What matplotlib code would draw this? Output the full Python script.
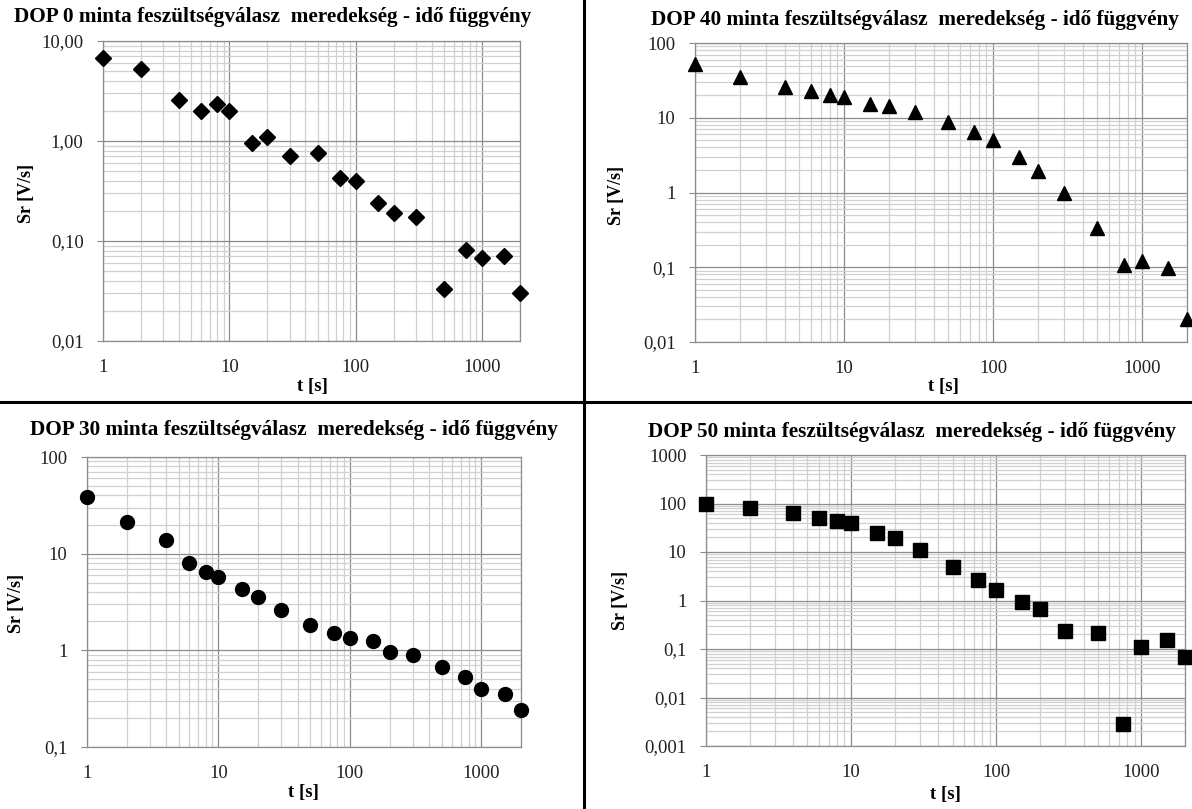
import numpy as np
import matplotlib
matplotlib.use("Agg")
import matplotlib.pyplot as plt
from matplotlib.lines import Line2D
from matplotlib.ticker import LogLocator, FixedLocator, FixedFormatter, NullFormatter

# data
t = [1, 2, 4, 6, 8, 10, 15, 20, 30, 50, 75, 100, 150, 200, 300, 500, 750, 1000, 1500, 2000]

sr_dop0 = [6.8, 5.3, 2.6, 2.0, 2.36, 1.98, 0.96, 1.1, 0.70, 0.76, 0.43, 0.40,
           0.24, 0.19, 0.175, 0.033, 0.081, 0.067, 0.070, 0.030]
sr_dop40 = [52, 35.6, 26, 23, 19.9, 18.9, 15.4, 14.5, 11.8, 8.7, 6.4, 5.0,
            3.0, 1.96, 0.97, 0.33, 0.106, 0.123, 0.097, 0.020]
sr_dop30 = [38.7, 21.4, 13.8, 8.1, 6.4, 5.7, 4.3, 3.6, 2.6, 1.81, 1.51, 1.33,
            1.24, 0.95, 0.89, 0.68, 0.53, 0.40, 0.35, 0.24]
sr_dop50 = [98, 81, 63, 50, 44, 40, 24.7, 19.2, 11, 5.0, 2.6, 1.66,
            0.91, 0.66, 0.24, 0.21, 0.0029, 0.11, 0.15, 0.069]

x_ticks = [1, 10, 100, 1000]
x_labels = ["1", "10", "100", "1000"]
y_ticks_dop0 = [0.01, 0.1, 1, 10]
y_labels_dop0 = ["0,01", "0,10", "1,00", "10,00"]
y_ticks_dop40 = [0.01, 0.1, 1, 10, 100]
y_labels_dop40 = ["0,01", "0,1", "1", "10", "100"]
y_ticks_dop30 = [0.1, 1, 10, 100]
y_labels_dop30 = ["0,1", "1", "10", "100"]
y_ticks_dop50 = [0.001, 0.01, 0.1, 1, 10, 100, 1000]
y_labels_dop50 = ["0,001", "0,01", "0,1", "1", "10", "100", "1000"]

title_fmt = "DOP {} minta feszültségválasz  meredekség - idő függvény"

W, H = 1192, 809
fig = plt.figure(figsize=(W / 100, H / 100), dpi=100)
fig.patch.set_facecolor("white")

serif = ["Liberation Serif", "DejaVu Serif"]


def px_axes(left, right, top, bottom):
    return fig.add_axes([left / W, 1 - bottom / H, (right - left) / W, (bottom - top) / H])


def panel(ax, y, marker, ms, yticks, ylabels, ylim, title, title_xy, ylab_xy, xlab_xy):
    ax.plot(t, y, linestyle="none", marker=marker, markersize=ms, color="black", clip_on=False, zorder=5)
    ax.set_xscale("log")
    ax.set_yscale("log")
    ax.set_xlim(1, 2000)
    ax.set_ylim(*ylim)
    ax.xaxis.set_major_locator(FixedLocator(x_ticks))
    ax.xaxis.set_major_formatter(FixedFormatter(x_labels))
    ax.xaxis.set_minor_locator(LogLocator(base=10, subs=np.arange(2, 10), numticks=20))
    ax.xaxis.set_minor_formatter(NullFormatter())
    ax.yaxis.set_major_locator(FixedLocator(yticks))
    ax.yaxis.set_major_formatter(FixedFormatter(ylabels))
    ax.yaxis.set_minor_locator(LogLocator(base=10, subs=np.arange(2, 10), numticks=20))
    ax.yaxis.set_minor_formatter(NullFormatter())
    ax.grid(True, which="major", color="#8c8c8c", linewidth=0.9)
    ax.grid(True, which="minor", color="#d0d0d0", linewidth=0.9)
    ax.set_axisbelow(True)
    for s in ax.spines.values():
        s.set_color("#8c8c8c")
        s.set_linewidth(0.9)
    ax.tick_params(axis="x", which="both", length=0, pad=13, labelsize=13.5, labelcolor="#222222")
    ax.tick_params(axis="y", which="major", length=4, color="#8c8c8c", pad=10, labelsize=13.5,
                   labelcolor="#222222")
    ax.tick_params(axis="y", which="minor", length=0)
    for lab in ax.get_xticklabels() + ax.get_yticklabels():
        lab.set_family(serif)
    fig.text(title_xy[0] / W, 1 - title_xy[1] / H, title, ha="center", va="center",
             fontsize=15.3, fontweight="bold", family=serif)
    fig.text(ylab_xy[0] / W, 1 - ylab_xy[1] / H, "Sr [V/s]", ha="center", va="center",
             rotation=90, fontsize=13, fontweight="bold", family=serif)
    fig.text(xlab_xy[0] / W, 1 - xlab_xy[1] / H, "t [s]", ha="center", va="center",
             fontsize=13.5, fontweight="bold", family=serif)


ax1 = px_axes(103, 520, 41, 341)
panel(ax1, sr_dop0, "D", 8.5, y_ticks_dop0, y_labels_dop0, (0.01, 10),
      title_fmt.format(0), (273, 17), (26, 193), (312, 387))

ax2 = px_axes(695, 1187, 43, 342)
panel(ax2, sr_dop40, "^", 10, y_ticks_dop40, y_labels_dop40, (0.01, 100),
      title_fmt.format(40), (915, 20), (616, 195), (943, 387))

ax3 = px_axes(87, 521, 457, 747)
panel(ax3, sr_dop30, "o", 10, y_ticks_dop30, y_labels_dop30, (0.1, 100),
      title_fmt.format(30), (294, 430), (17, 603), (303, 793))

ax4 = px_axes(706, 1185, 455, 746)
panel(ax4, sr_dop50, "s", 9.5, y_ticks_dop50, y_labels_dop50, (0.001, 1000),
      title_fmt.format(50), (912, 432), (620, 600), (945, 795))

# black frame lines separating the four charts
fig.add_artist(Line2D([584 / W, 584 / W], [0, 1], transform=fig.transFigure, color="black", linewidth=2.2))
fig.add_artist(Line2D([0, 1], [1 - 402 / H, 1 - 402 / H], transform=fig.transFigure, color="black", linewidth=2.2))

fig.savefig("out.png", dpi=100, facecolor="white")
